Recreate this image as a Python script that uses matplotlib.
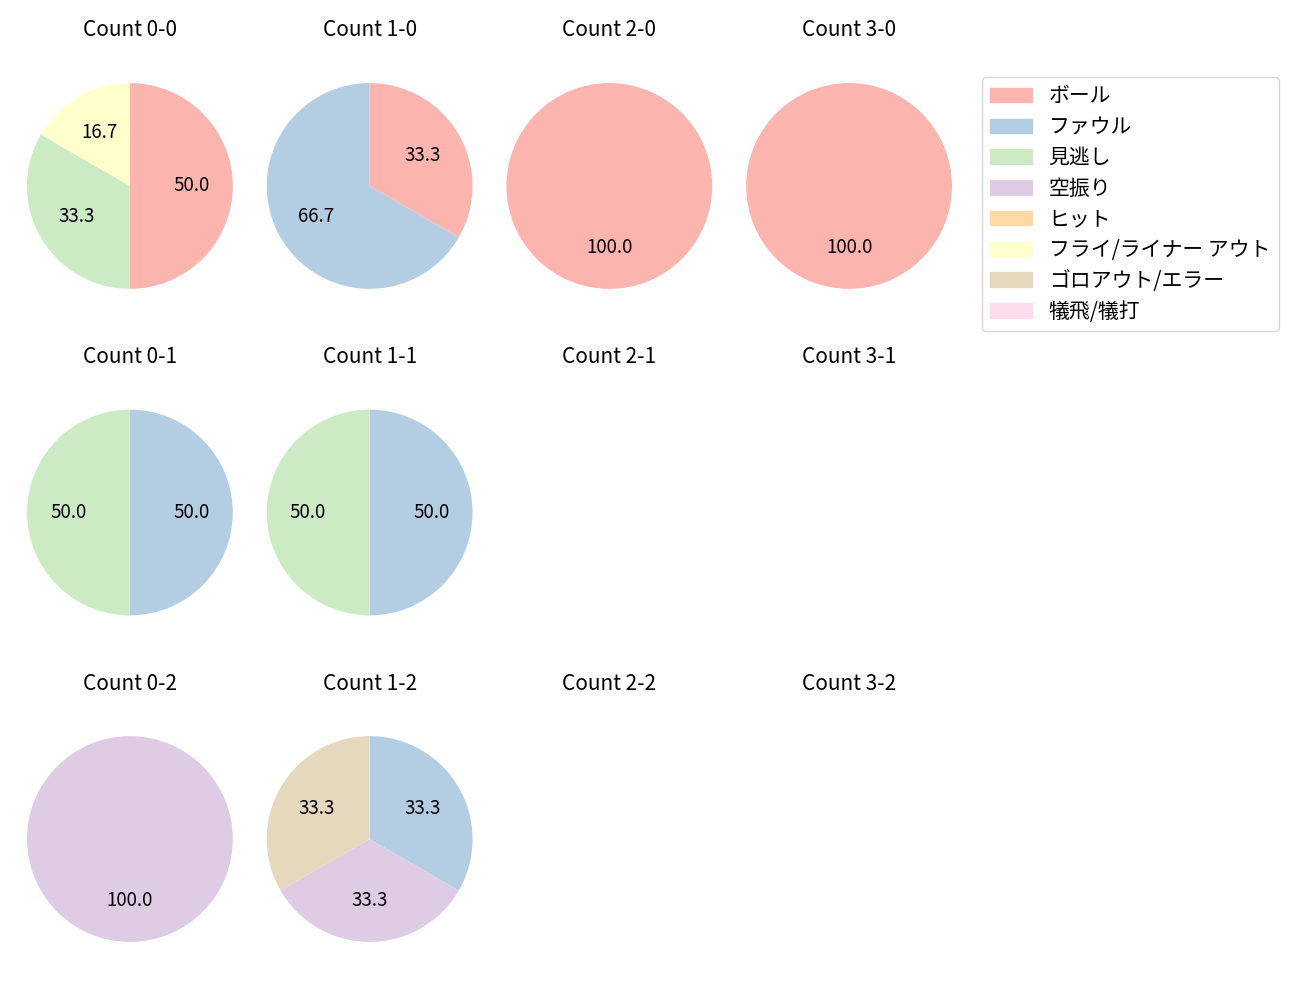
import matplotlib.pyplot as plt

plt.rcParams['font.family'] = ['Noto Sans CJK JP', 'DejaVu Sans']

categories = ['ボール', 'ファウル', '見逃し', '空振り', 'ヒット',
              'フライ/ライナー アウト', 'ゴロアウト/エラー', '犠飛/犠打']
colors = ['#fbb4ae', '#b3cde3', '#ccebc5', '#decbe4',
          '#fed9a6', '#ffffcc', '#e5d8bd', '#fddaec']

# pitch counts per category for each ball-strike count
count_0_0 = [3, 0, 2, 0, 0, 1, 0, 0]
count_1_0 = [1, 2, 0, 0, 0, 0, 0, 0]
count_2_0 = [1, 0, 0, 0, 0, 0, 0, 0]
count_3_0 = [1, 0, 0, 0, 0, 0, 0, 0]
count_0_1 = [0, 1, 1, 0, 0, 0, 0, 0]
count_1_1 = [0, 1, 1, 0, 0, 0, 0, 0]
count_2_1 = [0, 0, 0, 0, 0, 0, 0, 0]
count_3_1 = [0, 0, 0, 0, 0, 0, 0, 0]
count_0_2 = [0, 0, 0, 1, 0, 0, 0, 0]
count_1_2 = [0, 1, 0, 1, 0, 0, 1, 0]
count_2_2 = [0, 0, 0, 0, 0, 0, 0, 0]
count_3_2 = [0, 0, 0, 0, 0, 0, 0, 0]

grid = [
    [count_0_0, count_1_0, count_2_0, count_3_0],
    [count_0_1, count_1_1, count_2_1, count_3_1],
    [count_0_2, count_1_2, count_2_2, count_3_2],
]

fig, axes = plt.subplots(3, 4, figsize=(13, 10))
fig.subplots_adjust(left=0.0208, right=0.7323, top=0.958, bottom=0.017,
                    wspace=0.165, hspace=0.134)

for s, row in enumerate(grid):
    for b, vals in enumerate(row):
        ax = axes[s][b]
        ax.set_title(f'Count {b}-{s}', fontsize=15, pad=4)
        idx = [i for i, v in enumerate(vals) if v > 0]
        if idx:
            ax.pie([vals[i] for i in idx], colors=[colors[i] for i in idx],
                   startangle=90, counterclock=False, autopct='%.1f',
                   textprops={'fontsize': 13.5})
            ax.set_xlim(-1, 1)
            ax.set_aspect('equal', adjustable='datalim')
        ax.axis('off')

handles = [plt.Rectangle((0, 0), 1, 1, color=c) for c in colors]
fig.legend(handles, categories, loc='upper left', bbox_to_anchor=(0.7554, 0.923),
           borderaxespad=0, fontsize=15, labelspacing=0.42)

plt.savefig('out.png', dpi=100)
